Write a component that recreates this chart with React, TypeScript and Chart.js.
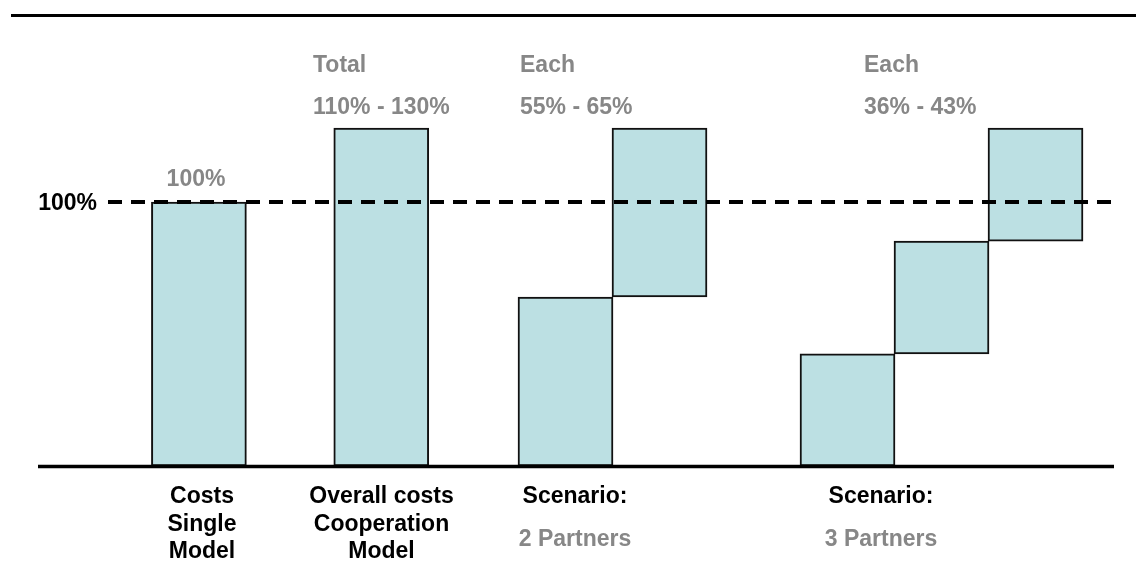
import React, { useEffect, useRef } from "react";
import { Chart, registerables } from "chart.js";

Chart.register(...registerables);

// Bar positions (slot units) and floating ranges (% of single model costs)
const barPositions = [2.1, 4.04, 6, 7, 9, 10, 11];
const barStarts = [0, 0, 0, 64, 0, 42.5, 85.2];
const barEnds = [100, 128, 64, 128, 42.5, 85.2, 128];

const referenceValue = 100;
const referenceLabel = "100%";

// Headers above groups
const topHeaders = ["Total", "Each", "Each"];
const topRanges = ["110% - 130%", "55% - 65%", "36% - 43%"];
const singleValueLabel = "100%";

// Category labels under the axis
const categoryLines = [
  ["Costs", "Single", "Model"],
  ["Overall costs", "Cooperation", "Model"],
];
const scenarioTitles = ["Scenario:", "Scenario:"];
const scenarioPartners = ["2 Partners", "3 Partners"];

const FONT = 'bold 23px "Liberation Sans", Arial, sans-serif';
const GRAY = "#878787";

export default function App() {
  const ref = useRef<HTMLCanvasElement | null>(null);

  useEffect(() => {
    if (!ref.current) return;
    const data = barPositions.map((x, i) => ({ x, y: [barStarts[i], barEnds[i]] }));

    const overlay = {
      id: "overlay",
      afterDraw(chart: any) {
        const ctx = chart.ctx as CanvasRenderingContext2D;
        const ys = chart.scales.y;
        const y0 = ys.getPixelForValue(0);
        const y100 = ys.getPixelForValue(referenceValue);
        ctx.save();
        // top rule
        ctx.strokeStyle = "#000";
        ctx.lineWidth = 3;
        ctx.beginPath();
        ctx.moveTo(11, 15.5);
        ctx.lineTo(1136, 15.5);
        ctx.stroke();
        // baseline
        ctx.lineWidth = 3.5;
        ctx.beginPath();
        ctx.moveTo(38, y0 + 0.5);
        ctx.lineTo(1114, y0 + 0.5);
        ctx.stroke();
        // dashed reference
        ctx.lineWidth = 4;
        ctx.setLineDash([14, 9]);
        ctx.beginPath();
        ctx.moveTo(108, y100);
        ctx.lineTo(1114, y100);
        ctx.stroke();
        ctx.setLineDash([]);

        ctx.font = FONT;
        ctx.textBaseline = "alphabetic";
        // left reference label
        ctx.fillStyle = "#000";
        ctx.textAlign = "right";
        ctx.fillText(referenceLabel, 97, 210);

        // gray value above single bar
        ctx.fillStyle = GRAY;
        ctx.textAlign = "center";
        ctx.fillText(singleValueLabel, 196, 186);

        // top headers
        const headerX = [313, 520, 864];
        ctx.textAlign = "left";
        topHeaders.forEach((t, i) => ctx.fillText(t, headerX[i], 72));
        topRanges.forEach((t, i) => ctx.fillText(t, headerX[i], 114));

        // bottom category labels
        ctx.fillStyle = "#000";
        ctx.textAlign = "center";
        const catX = [202, 381.5];
        categoryLines.forEach((lines, i) =>
          lines.forEach((l, j) => ctx.fillText(l, catX[i], 503 + j * 27.5))
        );
        const scenX = [575, 881];
        scenarioTitles.forEach((t, i) => {
          ctx.fillStyle = "#000";
          ctx.fillText(t, scenX[i], 503);
          ctx.fillStyle = GRAY;
          ctx.fillText(scenarioPartners[i], scenX[i], 546);
        });
        ctx.restore();
      },
    };

    const chart = new Chart(ref.current, {
      type: "bar",
      data: {
        datasets: [
          {
            data: data as any,
            backgroundColor: "#BCE0E3",
            borderColor: "#111111",
            borderWidth: 2,
            borderSkipped: false,
            barThickness: 95,
          },
        ],
      },
      options: {
        responsive: false,
        animation: false,
        layout: { padding: { left: 1.5, right: 0, top: 70, bottom: 116 } },
        plugins: { legend: { display: false }, tooltip: { enabled: false } },
        scales: {
          x: { type: "linear", display: false, min: 0, max: 12.069, offset: false },
          y: { type: "linear", display: false, min: 0, max: 150 },
        },
      },
      plugins: [overlay],
    });
    return () => chart.destroy();
  }, []);

  return (
    <div style={{ position: "absolute", left: 0, top: 0, width: 1136, height: 582, background: "#fff" }}>
      <canvas ref={ref} width={1136} height={582} />
    </div>
  );
}
